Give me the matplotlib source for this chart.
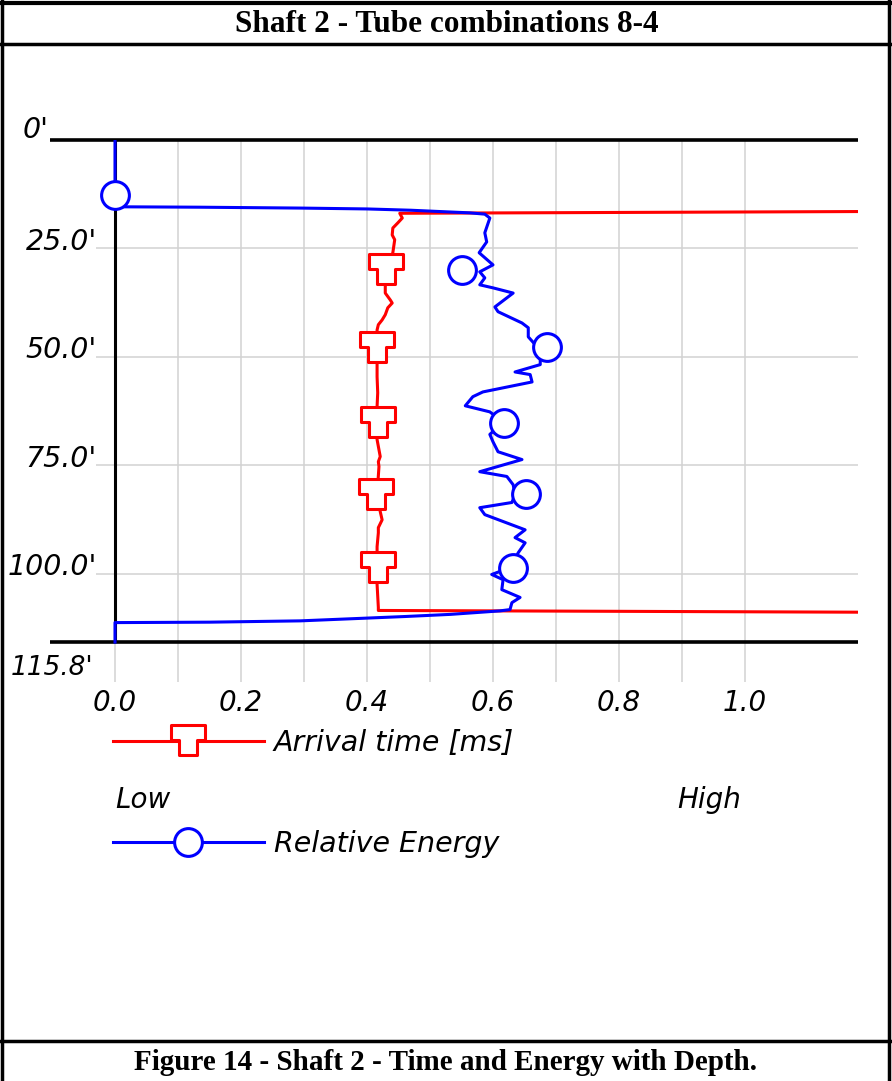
import numpy as np
import matplotlib.pyplot as plt
from matplotlib.path import Path
from matplotlib.lines import Line2D

# arrival time curve (x value, depth ft)
time_x = [1.18, 0.452, 0.456, 0.449, 0.441, 0.440, 0.444, 0.441, 0.430, 0.429, 0.429,
          0.437, 0.440, 0.433, 0.429, 0.424, 0.418, 0.416, 0.416, 0.416, 0.416, 0.417,
          0.416, 0.416, 0.416, 0.421, 0.418, 0.419, 0.416, 0.421, 0.424, 0.418, 0.418,
          0.416, 0.416, 0.416, 0.418, 0.418, 1.18]
time_depth = [16.5, 16.9, 18.0, 19.1, 20.3, 21.9, 23.0, 26.0, 30.0, 33.9, 35.3,
              36.9, 37.6, 38.7, 40.3, 41.5, 42.6, 43.8, 47.9, 51.4, 54.6, 58.3,
              61.5, 65.3, 69.1, 73.0, 74.2, 75.3, 81.8, 85.7, 87.6, 89.4, 90.6,
              93.8, 98.6, 102.5, 107.8, 108.5, 108.9]

# relative energy curve
energy_x = [0.0, 0.0, 0.135, 0.294, 0.400, 0.470, 0.516, 0.563, 0.587, 0.595, 0.587, 0.590,
            0.578, 0.600, 0.579, 0.587, 0.579, 0.600, 0.632, 0.603, 0.608, 0.646,
            0.656, 0.656, 0.667, 0.675, 0.675, 0.635, 0.659, 0.662, 0.584, 0.568,
            0.556, 0.595, 0.611, 0.603, 0.595, 0.600, 0.608, 0.646, 0.579, 0.622,
            0.632, 0.635, 0.630, 0.579, 0.587, 0.651, 0.635, 0.651, 0.640, 0.630,
            0.611, 0.598, 0.616, 0.614, 0.643, 0.630, 0.627, 0.611, 0.533, 0.460, 0.394,
            0.294, 0.150, 0.0, 0.0]
energy_depth = [0.0, 15.4, 15.5, 15.7, 15.9, 16.2, 16.5, 16.8, 17.1, 18.0, 21.4, 23.5,
                26.0, 28.8, 30.4, 31.8, 33.4, 34.1, 35.3, 38.5, 39.6, 42.2,
                43.3, 45.4, 47.2, 50.7, 51.8, 53.5, 54.1, 55.8, 58.1, 59.2,
                61.3, 62.7, 64.5, 66.8, 67.9, 69.6, 71.9, 73.7, 76.5, 77.6,
                79.5, 81.8, 83.6, 84.8, 86.4, 89.9, 91.7, 92.9, 95.2, 97.9,
                99.5, 100.2, 101.4, 103.7, 105.5, 106.7, 108.3, 108.6, 109.4, 109.9, 110.3,
                110.9, 111.2, 111.3, 115.8]

# marker positions
tee_x = [0.430, 0.416, 0.417, 0.415, 0.417]
tee_depth = [30.0, 47.9, 65.3, 81.8, 98.6]
circ_x = [0.0, 0.551, 0.685, 0.617, 0.652, 0.631]
circ_depth = [12.7, 30.0, 47.8, 65.3, 81.6, 98.7]

depth_ticks = [25, 50, 75, 100]
depth_labels = ["25.0'", "50.0'", "75.0'", "100.0'"]
x_ticks = [0.0, 0.2, 0.4, 0.6, 0.8, 1.0]
max_depth = 115.8

RED = '#ff0000'
BLUE = '#0000ff'
GRID = '#d2d2d2'

W, H = 892, 1081
fig = plt.figure(figsize=(W / 100, H / 100), dpi=100)

def px(x, y):
    return x / W, 1 - y / H

ax = fig.add_axes([50 / W, 1 - 682 / H, 808 / W, 542 / H])
ax.set_xlim(-0.1032, 1.1794)
ax.set_ylim(125, 0)
for s in ax.spines.values():
    s.set_visible(False)

ax.set_xticks(x_ticks)
ax.set_xticklabels(['%.1f' % v for v in x_ticks], fontsize=20, style='italic')
ax.set_xticks(np.arange(0.1, 1.0, 0.2), minor=True)
ax.tick_params(axis='x', which='both', length=0, pad=5)
ax.set_yticks([])
ax.grid(axis='x', which='both', color=GRID, lw=1.1)
ax.hlines(depth_ticks, -0.03, 1.1794, color=GRID, lw=1.1, zorder=0)

ax.hlines([0, max_depth], -0.1032, 1.1794, color='black', lw=2.6, clip_on=False, zorder=2)
ax.vlines(0, 0, max_depth, color='black', lw=2.2, zorder=2)

# T shaped marker, origin at underside of the top bar
tee = Path([(-16.5, 16), (16.5, 16), (16.5, 1), (8.5, 1), (8.5, -14), (-8.5, -14),
            (-8.5, 1), (-16.5, 1), (-16.5, 16)],
           [Path.MOVETO] + [Path.LINETO] * 7 + [Path.CLOSEPOLY])

ax.plot(time_x, time_depth, color=RED, lw=2.2, zorder=3)
ax.plot(energy_x, energy_depth, color=BLUE, lw=2.2, zorder=4)
ax.plot(tee_x, tee_depth, ls='none', marker=tee, ms=23.8, mfc='white', mec=RED, mew=2.2, zorder=5)
ax.plot(circ_x, circ_depth, ls='none', marker='o', ms=20, mfc='white', mec=BLUE, mew=2.2, zorder=6)

lab = dict(fontsize=20.5, style='italic', ha='right', va='center',
           textcoords='offset points', annotation_clip=False)
for d, s in zip(depth_ticks, depth_labels):
    ax.annotate(s, (-0.0286, d), xytext=(0, 4.7), **lab)
ax.annotate("0'", (-0.106, 0), xytext=(0, 7), **lab)
lab['fontsize'] = 19
ax.annotate("115.8'", (-0.035, max_depth), xytext=(0, -19), **lab)

# legend
h1 = Line2D([], [], color=RED, lw=2.2, marker=tee, ms=23.8, mfc='white', mec=RED, mew=2.2)
h2 = Line2D([], [], color=BLUE, lw=2.2, marker='o', ms=20, mfc='white', mec=BLUE, mew=2.2)
ax.legend([h1, h2], ['Arrival time [ms]', 'Relative Energy'], loc='upper left',
          bbox_to_anchor=px(113, 729), bbox_transform=fig.transFigure, frameon=False,
          prop={'size': 20.5, 'style': 'italic'}, handlelength=5.3, handletextpad=0.35,
          labelspacing=2.55, borderpad=0, borderaxespad=0, numpoints=1)
fig.text(*px(115, 800), 'Low', fontsize=20, style='italic', va='center')
fig.text(*px(677, 800), 'High', fontsize=20, style='italic', va='center')

# frame and captions
def frame(x0, y0, x1, y1, lw=2.5):
    fig.add_artist(Line2D([x0 / W, x1 / W], [1 - y0 / H, 1 - y1 / H], color='black', lw=lw))

frame(0, 3, W, 3, 3)
frame(2, 0, 2, H)
frame(889, 0, 889, H)
frame(0, 44, W, 44)
frame(0, 1041, W, 1041)

fig.text(*px(447, 25), 'Shaft 2 - Tube combinations 8-4', family='Liberation Serif',
         weight='bold', fontsize=22.5, ha='center', va='center')
fig.text(*px(446, 1062), 'Figure 14 - Shaft 2 - Time and Energy with Depth.',
         family='Liberation Serif', weight='bold', fontsize=21, ha='center', va='center')

fig.savefig('out.png', dpi=100)
